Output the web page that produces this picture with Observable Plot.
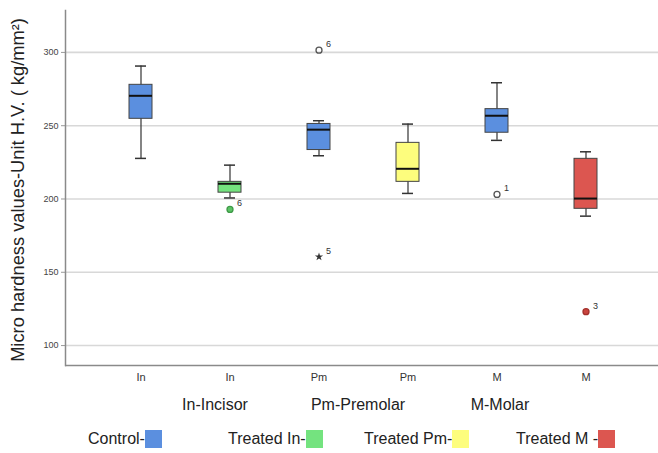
<!DOCTYPE html>
<html>
<head>
<meta charset="utf-8">
<script src="https://cdn.jsdelivr.net/npm/d3@7"></script>
<script src="https://cdn.jsdelivr.net/npm/@observablehq/plot@0.6"></script>
<style>
  html, body { margin: 0; padding: 0; background: #fff; }
  #wrap { position: relative; width: 658px; height: 453px; font-family: "Liberation Sans", Arial, sans-serif; color: #222; }
  .abbr { position: absolute; top: 396px; font-size: 16px; transform: translateX(-50%); white-space: nowrap; }
  .leg { position: absolute; top: 430px; font-size: 16px; white-space: nowrap; display: flex; align-items: center; }
  .leg span.sw { display: inline-block; width: 17px; height: 18px; margin-left: 0px; }
</style>
</head>
<body>
<div id="wrap"></div>
<script>
// ---- data ----
const groups = ["Control In", "Treated In", "Control Pm", "Treated Pm", "Control M", "Treated M"];
const tickLabels = ["In", "In", "Pm", "Pm", "M", "M"];
const whiskerLow  = [227.7, 200.7, 229.5, 203.8, 240.0, 188.3];
const q1          = [254.7, 204.3, 233.4, 211.7, 245.2, 193.3];
const median      = [270.4, 210.4, 247.3, 220.6, 256.8, 200.3];
const q3          = [277.9, 211.7, 251.2, 238.3, 261.3, 227.4];
const whiskerHigh = [290.7, 223.1, 253.4, 251.1, 279.3, 232.2];
const boxColors   = ["#5b8fdf", "#74e37f", "#5b8fdf", "#fdfd7d", "#5b8fdf", "#dc5650"];

const outlierGroup = ["Control Pm", "Control Pm", "Treated In", "Control M", "Treated M"];
const outlierValue = [301.5, 160.6, 192.9, 203.1, 123.1];
const outlierLabel = ["6", "5", "6", "1", "3"];
const outlierKind  = ["open", "star", "filled", "open", "filled"];
const outlierFill  = ["none", "#333", "#5cc466", "none", "#c9443e"];
const outlierStroke= ["#555", "#333", "#3f9a48", "#555", "#a3302b"];

const yTicks = [100, 150, 200, 250, 300];
const yDomain = [86.4, 328.6];

const abbreviations = ["In-Incisor", "Pm-Premolar", "M-Molar"];
const legendLabels = ["Control-", "Treated In-", "Treated Pm-", "Treated M -"];
const legendColors = ["#5b8fdf", "#74e37f", "#fdfd7d", "#dc5650"];

// ---- tables ----
const boxes = groups.map((g, i) => ({
  g, lo: whiskerLow[i], q1: q1[i], med: median[i], q3: q3[i], hi: whiskerHigh[i], fill: boxColors[i]
}));
const outliers = outlierGroup.map((g, i) => ({
  g, v: outlierValue[i], label: outlierLabel[i], kind: outlierKind[i], fill: outlierFill[i], stroke: outlierStroke[i]
}));
const labelOf = new Map(groups.map((g, i) => [g, tickLabels[i]]));

const chart = Plot.plot({
  width: 658,
  height: 392,
  marginLeft: 65,
  marginRight: 0,
  marginTop: 10,
  marginBottom: 27,
  style: { fontFamily: "Liberation Sans, Arial, sans-serif", background: "#fff" },
  x: { type: "band", domain: groups, paddingInner: 0.743, paddingOuter: 0.6, insetLeft: 8, insetRight: 5 },
  y: { domain: yDomain },
  marks: [
    Plot.ruleY(yTicks, { stroke: "#d8d8d8", strokeWidth: 1.6 }),
    Plot.ruleY([yDomain[0]], { stroke: "#8a8a8a", strokeWidth: 1.5 }),
    Plot.axisY({ ticks: yTicks, tickSize: 4, tickPadding: 3, fontSize: 9, stroke: "#999", color: "#444", label: null }),
    Plot.axisX({ tickSize: 0, tickPadding: 8, fontSize: 11, color: "#333", tickFormat: (d) => labelOf.get(d), label: null }),
    Plot.frame({ anchor: "left", stroke: "#8a8a8a", strokeWidth: 1.5 }),
    // whiskers
    Plot.ruleX(boxes, { x: "g", y1: "lo", y2: "hi", stroke: "#333", strokeWidth: 1.2 }),
    Plot.tickY(boxes, { x: "g", y: "lo", stroke: "#333", strokeWidth: 1.5, insetLeft: 6, insetRight: 6 }),
    Plot.tickY(boxes, { x: "g", y: "hi", stroke: "#333", strokeWidth: 1.5, insetLeft: 6, insetRight: 6 }),
    // boxes
    Plot.barY(boxes, { x: "g", y1: "q1", y2: "q3", fill: "fill", stroke: "#444", strokeWidth: 1 }),
    Plot.tickY(boxes, { x: "g", y: "med", stroke: "#111", strokeWidth: 2 }),
    // outliers
    Plot.dot(outliers.filter(d => d.kind !== "star"), { x: "g", y: "v", r: 3, fill: "fill", stroke: "stroke", strokeWidth: 1.3 }),
    Plot.dot(outliers.filter(d => d.kind === "star"), { x: "g", y: "v", r: 2.6, symbol: "star", fill: "fill", stroke: "none" }),
    Plot.text(outliers, { x: "g", y: "v", text: "label", dx: 7, dy: -6, fontSize: 9, fill: "#333", textAnchor: "start" }),
    // y label
    Plot.text(["Micro hardness values-Unit H.V. ( kg/mm²)"], {
      frameAnchor: "left", textAnchor: "middle", rotate: -90, dx: -47, dy: 2, fontSize: 18.3, fill: "#222"
    })
  ]
});

const wrap = document.getElementById("wrap");
wrap.appendChild(chart);

const abbrX = [215, 358, 500];
abbreviations.forEach((t, i) => {
  const d = document.createElement("div");
  d.className = "abbr";
  d.style.left = abbrX[i] + "px";
  d.textContent = t;
  wrap.appendChild(d);
});
const legX = [88, 228, 364, 516];
legendLabels.forEach((t, i) => {
  const d = document.createElement("div");
  d.className = "leg";
  d.style.left = legX[i] + "px";
  d.innerHTML = `<span>${t}</span><span class="sw" style="background:${legendColors[i]}"></span>`;
  wrap.appendChild(d);
});
</script>
</body>
</html>
